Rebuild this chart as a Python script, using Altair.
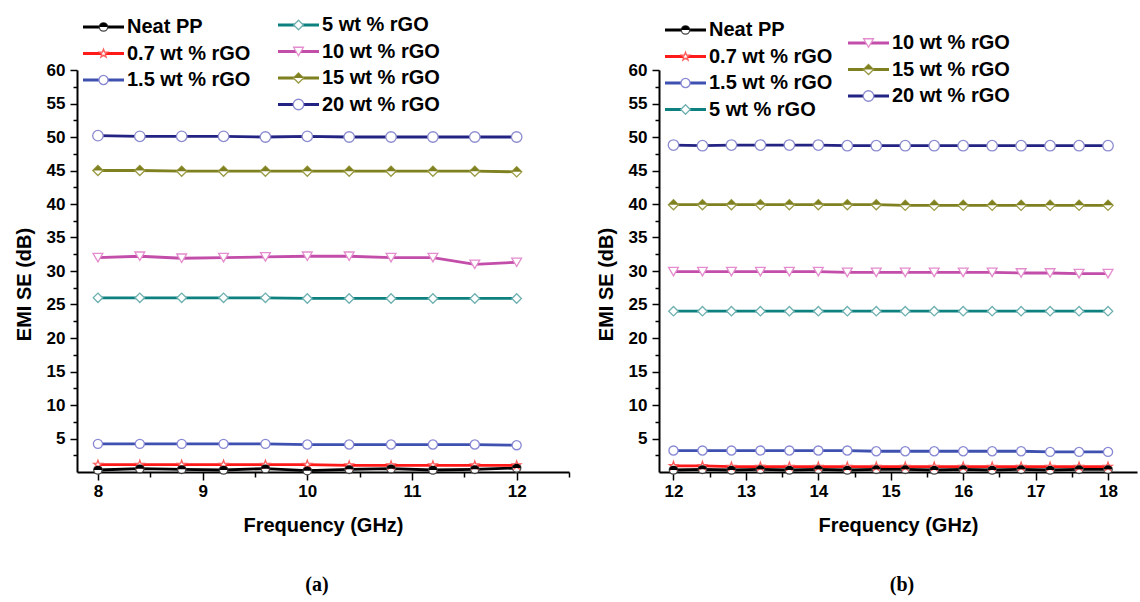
import altair as alt
import pandas as pd

series = ["Neat PP", "0.7 wt % rGO", "1.5 wt % rGO", "5 wt % rGO",
          "10 wt % rGO", "15 wt % rGO", "20 wt % rGO"]
line_colors = ["#000000", "#ff1a1a", "#3f51b0", "#0d8080", "#c24ea9", "#7f8020", "#232383"]
marker_strokes = ["#444444", "#ff5a5a", "#8888d4", "#6fb0b0", "#e48ccd", "#9a9a45", "#8c8cd0"]

STAR = ("M0,-1L0.235,-0.324L0.951,-0.309L0.38,0.124L0.588,0.809L0,0.4"
        "L-0.588,0.809L-0.38,0.124L-0.951,-0.309L-0.235,-0.324Z")
shapes = ["circle", STAR, "circle", "diamond", "triangle-down", "diamond", "circle"]
sizes = [70, 110, 75, 100, 90, 100, 75]
TOP_CIRCLE = "M-1,0A1,1 0 0 1 1,0Z"
TOP_DIAMOND = "M-1,0L0,-1L1,0Z"

# ---- panel (a): 8-12 GHz
freq_a = [8.0, 8.4, 8.8, 9.2, 9.6, 10.0, 10.4, 10.8, 11.2, 11.6, 12.0]
se_a = {
    "Neat PP":      [0.3, 0.5, 0.4, 0.3, 0.5, 0.2, 0.4, 0.5, 0.3, 0.4, 0.6],
    "0.7 wt % rGO": [1.1, 1.1, 1.1, 1.1, 1.1, 1.1, 1.0, 1.0, 1.0, 1.0, 1.0],
    "1.5 wt % rGO": [4.2, 4.2, 4.2, 4.2, 4.2, 4.1, 4.1, 4.1, 4.1, 4.1, 4.0],
    "5 wt % rGO":   [26.0, 26.0, 26.0, 26.0, 26.0, 25.9, 25.9, 25.9, 25.9, 25.9, 25.9],
    "10 wt % rGO":  [32.0, 32.2, 31.9, 32.0, 32.1, 32.2, 32.2, 32.0, 32.0, 31.0, 31.3],
    "15 wt % rGO":  [45.0, 45.0, 44.9, 44.9, 44.9, 44.9, 44.9, 44.9, 44.9, 44.9, 44.8],
    "20 wt % rGO":  [50.2, 50.1, 50.1, 50.1, 50.0, 50.1, 50.0, 50.0, 50.0, 50.0, 50.0],
}

# ---- panel (b): 12-18 GHz
freq_b = [12.0, 12.4, 12.8, 13.2, 13.6, 14.0, 14.4, 14.8, 15.2, 15.6, 16.0,
          16.4, 16.8, 17.2, 17.6, 18.0]
se_b = {
    "Neat PP":      [0.3, 0.4, 0.3, 0.4, 0.3, 0.4, 0.3, 0.4, 0.4, 0.3, 0.4, 0.3, 0.4, 0.3, 0.4, 0.4],
    "0.7 wt % rGO": [0.9, 0.9, 0.8, 0.8, 0.8, 0.8, 0.8, 0.8, 0.8, 0.8, 0.8, 0.8, 0.8, 0.8, 0.8, 0.8],
    "1.5 wt % rGO": [3.2, 3.2, 3.2, 3.2, 3.2, 3.2, 3.2, 3.1, 3.1, 3.1, 3.1, 3.1, 3.1, 3.0, 3.0, 3.0],
    "5 wt % rGO":   [24.0, 24.0, 24.0, 24.0, 24.0, 24.0, 24.0, 24.0, 24.0, 24.0, 24.0, 24.0, 24.0, 24.0, 24.0, 24.0],
    "10 wt % rGO":  [29.9, 29.9, 29.9, 29.9, 29.9, 29.9, 29.8, 29.8, 29.8, 29.8, 29.8, 29.8, 29.7, 29.7, 29.6, 29.6],
    "15 wt % rGO":  [39.9, 39.9, 39.9, 39.9, 39.9, 39.9, 39.9, 39.9, 39.8, 39.8, 39.8, 39.8, 39.8, 39.8, 39.8, 39.8],
    "20 wt % rGO":  [48.8, 48.7, 48.8, 48.8, 48.8, 48.8, 48.7, 48.7, 48.7, 48.7, 48.7, 48.7, 48.7, 48.7, 48.7, 48.7],
}

y_major = [5 * k for k in range(1, 13)]
y_minor = [2.5 + 5 * k for k in range(12)]
x_major_a = [8, 9, 10, 11, 12]
x_minor_a = [8.5, 9.5, 10.5, 11.5, 12.5]
x_major_b = [12, 13, 14, 15, 16, 17, 18]
x_minor_b = [12.5, 13.5, 14.5, 15.5, 16.5, 17.5]
x_title = "Frequency (GHz)"
y_title = "EMI SE (dB)"
panel_labels = ["(a)", "(b)"]

# legend layouts: list of columns, each a list of series names
legend_a = [series[:3], series[3:]]
legend_b = [series[:4], series[4:]]

FONT = "Liberation Sans"
W_A, W_B, H = 492, 478, 402

color_scale = alt.Scale(domain=series, range=line_colors)
stroke_scale = alt.Scale(domain=series, range=marker_strokes)
shape_scale = alt.Scale(domain=series, range=shapes)
size_scale = alt.Scale(domain=series, range=sizes)


def long_df(freq, vals):
    rows = []
    for s in series:
        for f, v in zip(freq, vals[s]):
            rows.append({"series": s, "freq": f, "se": v})
    return pd.DataFrame(rows)


def legend_df(cols, col_x, col_y):
    rows = []
    for c, names in enumerate(cols):
        for r, s in enumerate(names):
            x0 = col_x[c]
            y0 = col_y[c] + r * 26.5
            rows.append({"series": s, "x0": x0, "x1": x0 + 41, "xm": x0 + 20.5,
                         "xt": x0 + 44, "y": y0})
    return pd.DataFrame(rows)


def panel(freq, vals, xdom, xmaj, xmin, width, leg, label, label_x, anchor):
    df = long_df(freq, vals)
    base = alt.Chart(df)
    xs = alt.Scale(domain=xdom, nice=False, zero=False)
    ys = alt.Scale(domain=[0, 60], nice=False)
    x_major = alt.X("freq:Q", scale=xs,
                    axis=alt.Axis(values=xmaj, format="d", title=x_title, tickSize=8,
                                  labelPadding=3, titlePadding=16, orient="bottom"))
    y_major_enc = alt.Y("se:Q", scale=ys,
                        axis=alt.Axis(values=y_major, format="d", title=y_title, tickSize=7,
                                      labelPadding=5, titlePadding=12, titleY=214,
                                      orient="left"))
    x_minor = alt.X("freq:Q", scale=xs,
                    axis=alt.Axis(values=xmin, labels=False, tickSize=5, title=None,
                                  domain=False, orient="bottom"))
    y_minor_enc = alt.Y("se:Q", scale=ys,
                        axis=alt.Axis(values=y_minor, labels=False, tickSize=4, title=None,
                                      domain=False, orient="left"))
    xn = alt.X("freq:Q", scale=xs, axis=None)
    yn = alt.Y("se:Q", scale=ys, axis=None)

    lines = base.mark_line(strokeWidth=2.8).encode(
        x=x_major, y=y_major_enc,
        color=alt.Color("series:N", scale=color_scale, legend=None),
        order=alt.Order("freq:Q"))
    pts = base.mark_point(fill="white", fillOpacity=1, strokeWidth=1.3, opacity=1).encode(
        x=x_minor, y=y_minor_enc,
        shape=alt.Shape("series:N", scale=shape_scale, legend=None),
        stroke=alt.Stroke("series:N", scale=stroke_scale, legend=None),
        size=alt.Size("series:N", scale=size_scale, legend=None))
    half_neat = base.transform_filter(alt.datum.series == series[0]).mark_point(
        shape=TOP_CIRCLE, filled=True, color="#000000", size=70, opacity=1).encode(x=xn, y=yn)
    half_15 = base.transform_filter(alt.datum.series == series[5]).mark_point(
        shape=TOP_DIAMOND, filled=True, color="#7f8020", size=100, opacity=1).encode(x=xn, y=yn)

    lg = alt.Chart(leg)
    ly = alt.Y("y:Q", scale=None, axis=None)
    lxm = alt.X("xm:Q", scale=None, axis=None)
    leg_rule = lg.mark_rule(strokeWidth=2.8).encode(
        x=alt.X("x0:Q", scale=None, axis=None), x2="x1:Q", y=ly,
        color=alt.Color("series:N", scale=color_scale, legend=None))
    leg_pts = lg.mark_point(fill="white", fillOpacity=1, strokeWidth=1.3, opacity=1).encode(
        x=lxm, y=ly,
        shape=alt.Shape("series:N", scale=shape_scale, legend=None),
        stroke=alt.Stroke("series:N", scale=stroke_scale, legend=None),
        size=alt.Size("series:N", scale=size_scale, legend=None))
    leg_half_neat = lg.transform_filter(alt.datum.series == series[0]).mark_point(
        shape=TOP_CIRCLE, filled=True, color="#000000", size=70, opacity=1).encode(x=lxm, y=ly)
    leg_half_15 = lg.transform_filter(alt.datum.series == series[5]).mark_point(
        shape=TOP_DIAMOND, filled=True, color="#7f8020", size=100, opacity=1).encode(x=lxm, y=ly)
    leg_txt = lg.mark_text(align="left", baseline="middle", font=FONT, fontSize=20,
                           fontWeight="bold", color="black").encode(
        x=alt.X("xt:Q", scale=None, axis=None), y=ly, text="series:N")

    lab = alt.Chart(pd.DataFrame({"t": [label]})).mark_text(
        font="Liberation Serif", fontSize=20, fontWeight="bold", color="black",
        align="center", baseline="middle").encode(
        text="t:N", x=alt.value(label_x), y=alt.value(515))
    anc = alt.Chart(pd.DataFrame({"t": [0]})).mark_point(
        filled=True, color="white", size=1, opacity=1).encode(
        x=alt.value(anchor[0]), y=alt.value(anchor[1]))

    return alt.layer(lines, pts, half_neat, half_15, leg_rule, leg_pts, leg_half_neat,
                     leg_half_15, leg_txt, lab, anc).resolve_axis(
        x="independent", y="independent").properties(width=width, height=H)


left = panel(freq_a, se_a, [7.8, 12.5], x_major_a, x_minor_a, W_A,
             legend_df(legend_a, [6, 201], [-43, -45]), panel_labels[0], 240,
             (-76.5, -69.5))
right = panel(freq_b, se_b, [11.8, 18.4], x_major_b, x_minor_b, W_B,
              legend_df(legend_b, [6, 189], [-40, -27]), panel_labels[1], 243,
              (1140 - 659 - 0.5, 602 - 70 - 0.5))

chart = alt.HConcatChart(hconcat=[left, right], spacing=90, bounds="flush").properties(
    padding=0
).configure_view(stroke=None).configure_axis(
    grid=False, domainColor="black", domainWidth=2, tickColor="black", tickWidth=1.5,
    labelFont=FONT, labelFontSize=17, labelFontWeight="bold", labelColor="black",
    titleFont=FONT, titleFontSize=20, titleFontWeight="bold", titleColor="black",
    labelOverlap=False, labelFlush=False
)

chart.save("out.html", embed_options={"renderer": "svg", "actions": False})
